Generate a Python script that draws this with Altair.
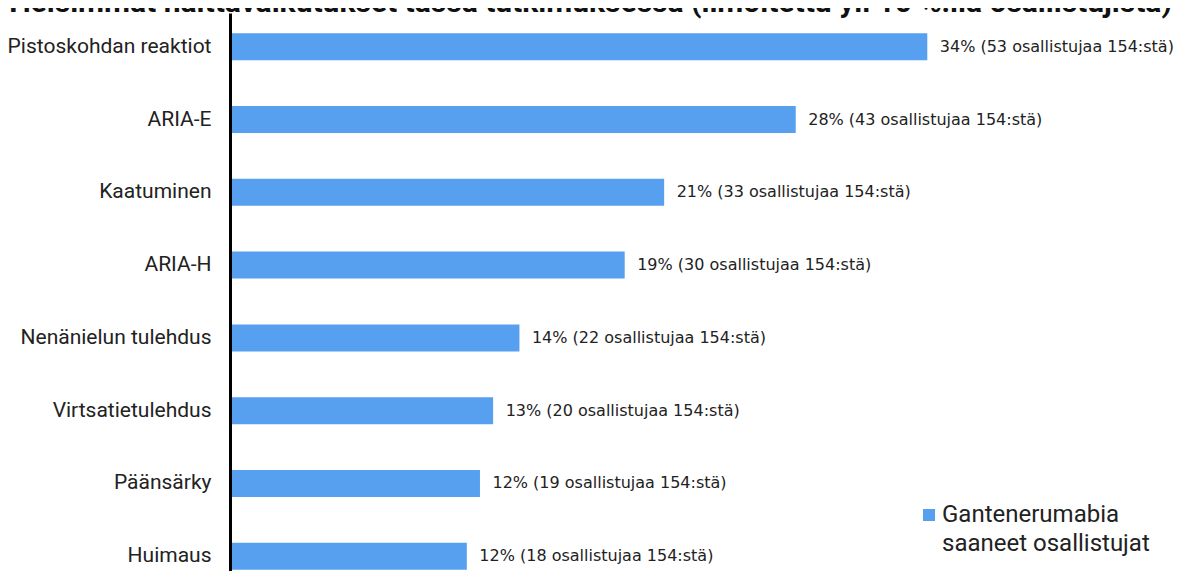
import altair as alt
import pandas as pd

categories = ["Pistoskohdan reaktiot", "ARIA-E", "Kaatuminen", "ARIA-H",
              "Nenänielun tulehdus", "Virtsatietulehdus", "Päänsärky", "Huimaus"]
counts = [53, 43, 33, 30, 22, 20, 19, 18]
total = 154
series_name = "Gantenerumabia\nsaaneet osallistujat"
title_text = "Yleisimmät haittavaikutukset tässä tutkimuksessa (ilmoitettu yli 10 %:lla osallistujista)"

pct = [c / total * 100 for c in counts]
labels = [f"{round(p)}% ({c} osallistujaa {total}:stä)" for p, c in zip(pct, counts)]
df = pd.DataFrame({"category": categories, "pct": pct, "label": labels,
                   "series": [series_name] * len(categories)})

BLUE = "#57A0F0"

y = alt.Y("category:N", sort=categories, title=None,
          scale=alt.Scale(paddingInner=0.629, paddingOuter=0.147, align=0.944),
          axis=alt.Axis(domainColor="black", domainWidth=3, ticks=False,
                        labelFont="Roboto", labelFontSize=21, labelColor="#222",
                        labelPadding=19, labelLimit=300, grid=False, zindex=1, title=None))
x = alt.X("pct:Q", scale=alt.Scale(domain=[0, 46], nice=False, zero=True), axis=None)

bars = alt.Chart(df).mark_bar().encode(
    x=x, y=y,
    color=alt.Color("series:N", scale=alt.Scale(range=[BLUE]),
                    legend=alt.Legend(title=None, orient="none", legendX=687, legendY=490,
                                      symbolType="square", symbolSize=144, symbolStrokeWidth=0,
                                      labelFont="Roboto", labelFontSize=24, labelColor="#222",
                                      labelExpr="split(datum.label, '\\n')", labelOffset=1,
                                      padding=0, labelLimit=400, labelBaseline="middle")),
)

text = alt.Chart(df).mark_text(align="left", baseline="middle", dx=12.5,
                               font="DejaVu Sans", fontSize=16, color="#222").encode(
    x=x, y=y, text="label:N")

title = alt.Chart(pd.DataFrame({"t": [title_text]})).mark_text(
    align="center", baseline="alphabetic", font="Roboto", fontSize=30,
    fontWeight="bold", color="#111").encode(x=alt.value(358), y=alt.value(-1), text="t:N")

chart = alt.layer(bars, text, title).properties(
    width=932, height=558, autosize="none",
    padding={"left": 222, "top": 5, "right": 14, "bottom": 0},
).configure(
    view=alt.ViewConfig(strokeWidth=0),
    style={"guide-label": {"lineHeight": 29}},
)

chart.save("out.html", embed_options={"renderer": "svg", "actions": False})
